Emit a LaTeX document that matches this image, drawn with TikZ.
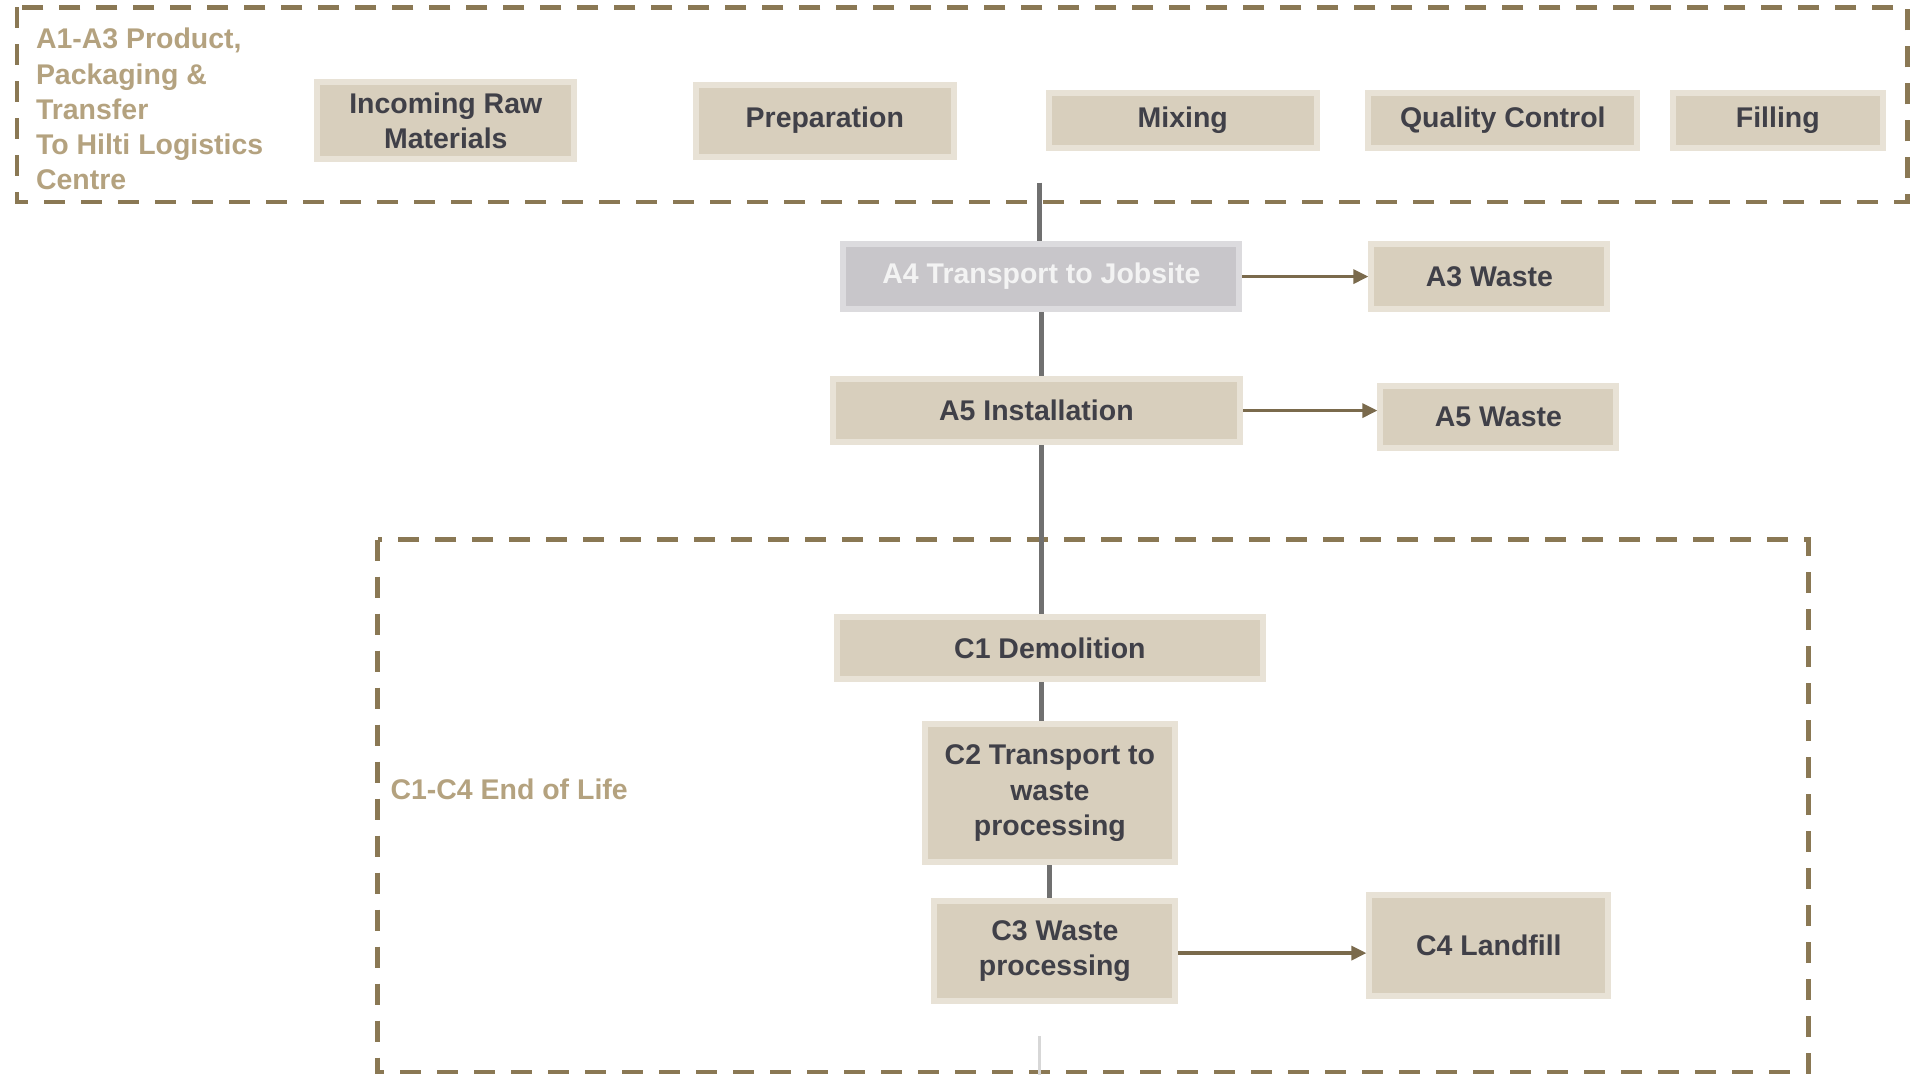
\documentclass[tikz,border=0pt]{standalone}
\usepackage{fontspec}
\setmainfont{Liberation Sans}
\usetikzlibrary{positioning,arrows.meta}
\definecolor{framebrown}{RGB}{138,120,84}
\definecolor{labeltan}{RGB}{180,162,127}
\definecolor{boxfill}{RGB}{216,207,189}
\definecolor{boxedge}{RGB}{232,226,214}
\definecolor{boxtext}{RGB}{64,64,72}
\definecolor{transfill}{RGB}{200,198,202}
\definecolor{transedge}{RGB}{220,219,222}
\definecolor{transtext}{RGB}{243,243,243}
\definecolor{arrowbrown}{RGB}{122,106,76}
\definecolor{linkgray}{RGB}{112,112,112}
\definecolor{tailgray}{RGB}{215,215,215}

\begin{document}
\begin{tikzpicture}[->,>={Triangle[length=1.5mm,width=1.4mm]},auto,
  box/.style={rectangle,draw=boxedge,fill=boxfill,line width=0.06cm,text=boxtext,align=center,inner sep=1pt,font=\fontsize{8.1}{10}\selectfont\bfseries},
  trans/.style={box,draw=transedge,fill=transfill,text=transtext},
  stage/.style={text=labeltan,align=left,anchor=west,inner sep=0pt,font=\fontsize{8.1}{10}\selectfont\bfseries},
  frame/.style={-,draw=framebrown,line width=0.045cm,dash pattern=on 0.21cm off 0.16cm},
  flow/.style={draw=arrowbrown,line width=0.033cm},
  link/.style={-,draw=linkgray,line width=0.05cm},
  tail/.style={-,draw=tailgray,line width=0.03cm}]

\useasboundingbox(0,0)rectangle(19.1,-10.75);

\draw[frame](0.171,-0.073)rectangle(19.074,-2.022);
\draw[frame](3.776,-5.396)rectangle(18.087,-10.718);

\node[stage](a1a3)at(0.353,-1.09){A1-A3 Product,\\Packaging \&\\Transfer\\To Hilti Logistics\\Centre};
\node[stage](c1c4)at(3.898,-7.893){C1-C4 End of Life};

\node[box,minimum width=2.57cm,minimum height=0.77cm](inraw)at(4.458,-1.206){Incoming Raw\\Materials};
\node[box,minimum width=2.58cm,minimum height=0.72cm](prep)[node distance=3.79cm,right of=inraw]{Preparation};
\node[box,minimum width=2.68cm,minimum height=0.55cm](mix)[node distance=3.58cm,right of=prep]{Mixing};
\node[box,minimum width=2.69cm,minimum height=0.55cm](qc)[node distance=3.2cm,right of=mix]{Quality Control};
\node[box,minimum width=2.1cm,minimum height=0.55cm](fill)[node distance=2.75cm,right of=qc]{Filling};

\node[trans,minimum width=3.96cm,minimum height=0.65cm](a4)[node distance=1.56cm,below of=mix,xshift=-1.414cm]{A4 Transport to Jobsite};
\node[box,minimum width=2.36cm,minimum height=0.65cm](a3w)[node distance=4.48cm,right of=a4]{A3 Waste};
\node[box,minimum width=4.07cm,minimum height=0.63cm](a5)[node distance=1.34cm,below of=a4,xshift=-0.05cm]{A5 Installation};
\node[box,minimum width=2.36cm,minimum height=0.62cm](a5w)[node distance=4.62cm,right of=a5,yshift=-0.06cm]{A5 Waste};

\node[box,minimum width=4.26cm,minimum height=0.62cm](c1)[node distance=2.375cm,below of=a5,xshift=0.135cm]{C1 Demolition};
\node[box,minimum width=2.5cm,minimum height=1.38cm](c2)[node distance=1.45cm,below of=c1]{C2 Transport to\\waste\\processing};
\node[box,minimum width=2.41cm,minimum height=1cm](c3)[node distance=1.58cm,below of=c2,xshift=0.05cm]{C3 Waste\\processing};
\node[box,minimum width=2.39cm,minimum height=1.01cm](c4)[node distance=4.34cm,right of=c3,yshift=0.06cm]{C4 Landfill};

\coordinate(topstub)at(10.39,-1.827);
\coordinate(tailtop)at(10.39,-10.365);
\coordinate(tailbot)at(10.39,-10.75);

\path(topstub)edge[link](topstub|-a4.north)
	(a4.south)edge[link](a4.south|-a5.north)
	(a5.south-|a4.south)edge[link](a4.south|-c1.north)
	(c1.south-|a4.south)edge[link](a4.south|-c2.north)
	(c2.south)edge[link](c2.south|-c3.north)
	(tailtop)edge[tail](tailbot)
	(a4)edge[flow](a3w)
	(a5.east)edge[flow](a5.east-|a5w.west)
	([yshift=-0.02cm]c3.east)edge[flow]([yshift=-0.02cm]c3.east-|c4.west);

\end{tikzpicture}
\end{document}
